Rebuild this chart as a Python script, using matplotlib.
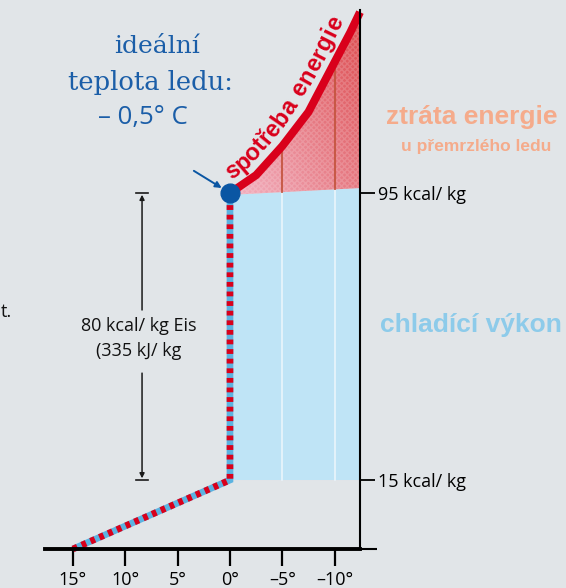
import numpy as np
import matplotlib
matplotlib.use("Agg")
import matplotlib.pyplot as plt
from matplotlib.patches import Polygon
from matplotlib.font_manager import FontProperties

# ---------------- data ----------------
x_ticks = [15, 10, 5, 0, -5, -10]
x_tick_labels = ["15°", "10°", "5°", "0°", "–5°", "–10°"]
y_ticks = [15, 95]
y_tick_labels = ["15 kcal/ kg", "95 kcal/ kg"]

# water cooling + freezing path (temperature °C, energy kcal/kg)
path_temp = [15, 0, 0]
path_kcal = [0, 15, 95]

# energy consumption curve for sub-cooling the ice
curve_temp = [0, -2.5, -5, -7.5, -10, -11.5, -12.42]
curve_kcal = [95, 100.0, 108.1, 117.6, 131.5, 139.8, 145.4]

# upper edge of the cooling-capacity area
cap_temp = [0, -12.42]
cap_top = [94.5, 96.4]
cap_bottom = 15

ideal_point = (0, 95)
latent_range = (15, 95)

# ---------------- styling ----------------
W, H = 566, 588
BG = "#e1e5e8"
RED = "#d9001b"
LBLUE = "#5bb3e1"
DBLUE = "#0a56a3"
FILLBLUE = "#bfe4f6"
TXTBLUE = "#1b5ea8"

fig = plt.figure(figsize=(W / 100, H / 100), dpi=100, facecolor=BG)


def fx(px):
    return px / W


def fy(py):
    return 1 - py / H


ax = fig.add_axes([fx(45), fy(549), fx(360) - fx(45), fy(10) - fy(549)])
ax.set_facecolor("none")


# piecewise-linear energy scale (kcal -> px above axis)
def fwd(k):
    k = np.asarray(k, dtype=float)
    mid = np.interp(k, [0, 15, 95], [0, 69, 356])
    return np.where(k > 95, 356 + (k - 95) * 3.59, np.where(k < 0, k * 4.6, mid))


def inv(p):
    p = np.asarray(p, dtype=float)
    mid = np.interp(p, [0, 69, 356], [0, 15, 95])
    return np.where(p > 356, 95 + (p - 356) / 3.59, np.where(p < 0, p / 4.6, mid))


ax.set_yscale("function", functions=(fwd, inv))
ax.set_xlim(17.67, -12.42)
ax.set_ylim(0, 146)

# spines / ticks
for s in ["left", "top"]:
    ax.spines[s].set_visible(False)
ax.spines["bottom"].set_linewidth(2.8)
ax.spines["right"].set_linewidth(1.5)
ax.spines["bottom"].set_zorder(6)
ax.spines["right"].set_zorder(6)
ax.set_xticks(x_ticks)
ax.set_xticklabels(x_tick_labels)
ax.tick_params(axis="x", length=12, width=1.6, pad=4, labelsize=13,
               direction="out", colors="black")
for lab in ax.get_xticklabels():
    lab.set_family("Open Sans")
ax.yaxis.tick_right()
ax.set_yticks(y_ticks)
ax.set_yticklabels(y_tick_labels)
ax.set_yticks([0], minor=True)
ax.yaxis.set_minor_formatter(matplotlib.ticker.NullFormatter())
ax.tick_params(axis="y", which="major", length=11, width=1.3, pad=2,
               labelsize=13)
ax.tick_params(axis="y", which="minor", length=12, width=1.5)
for lab in ax.get_yticklabels():
    lab.set_family("Open Sans")

# cooling capacity area (light blue)
ax.fill([cap_temp[0], cap_temp[1], cap_temp[1], cap_temp[0]],
        [cap_bottom, cap_bottom, cap_top[1], cap_top[0]],
        color=FILLBLUE, lw=0, zorder=1)

# energy loss area (gradient)
poly_xy = list(zip(curve_temp, curve_kcal)) + [(cap_temp[1], cap_top[1]), (cap_temp[0], cap_top[0])]
poly = Polygon(poly_xy, closed=True, transform=ax.transData, facecolor="none", lw=0)
ax.add_patch(poly)
gx = np.linspace(0, 1, 200)
gy = np.linspace(0, 1, 200)
GX, GY = np.meshgrid(gx, gy)
T = np.clip(0.6 * GX + 0.5 * GY, 0, 1)
c0 = np.array(matplotlib.colors.to_rgb("#f3b2c2"))
c1 = np.array(matplotlib.colors.to_rgb("#de5256"))
img = c0[None, None, :] * (1 - T[..., None]) + c1[None, None, :] * T[..., None]
im = ax.imshow(img, extent=(0, -12.42, 94.5, 146), origin="lower",
               aspect="auto", zorder=2, interpolation="bilinear")
im.set_clip_path(poly)
hatch = Polygon(poly_xy, closed=True, transform=ax.transData, facecolor="none",
                edgecolor=(1, 1, 1, 0.16), hatch="xxxxxx", lw=0, zorder=2.5)
ax.add_patch(hatch)

# grid lines at -5 and -10
ct = np.array(curve_temp)[::-1]
ck = np.array(curve_kcal)[::-1]
for t in [-5, -10]:
    top_cap = np.interp(t, cap_temp[::-1], cap_top[::-1])
    ax.plot([t, t], [cap_bottom, top_cap], color="#eaf5fb", lw=1.2, zorder=3)
    ax.plot([t, t], [top_cap, np.interp(t, ct, ck)], color="#c4553f", lw=1.3, zorder=3)

# consumption curve
ax.plot(curve_temp, curve_kcal, color=RED, lw=5.8, solid_capstyle="butt",
        solid_joinstyle="round", zorder=5, clip_on=False)

# dashed red/blue path
ax.plot(path_temp, path_kcal, color=LBLUE, lw=4.8, solid_joinstyle="miter",
        solid_capstyle="butt", zorder=4, clip_on=False)
ax.plot(path_temp, path_kcal, color=RED, lw=4.8, dashes=(0.72, 0.72),
        dash_capstyle="butt", zorder=4.5, clip_on=False)

# ideal point
ax.plot(*ideal_point, "o", ms=13.5, color=DBLUE, zorder=7, clip_on=False)
ax.annotate("", xy=ideal_point, xytext=(-26, 16), textcoords="offset points",
            arrowprops=dict(arrowstyle="-|>", color=DBLUE, lw=1.4,
                            mutation_scale=9, shrinkA=0, shrinkB=7),
            zorder=7)

# dimension marker 80 kcal
xd = 8.4
for yend, ygap in [(latent_range[1], 62.4), (latent_range[0], 44.8)]:
    ax.annotate("", xy=(xd, yend), xytext=(xd, ygap),
                arrowprops=dict(arrowstyle="-|>", color="#1a1a1a", lw=1.1,
                                mutation_scale=7, shrinkA=0, shrinkB=1.2))
    ax.plot([xd + 0.55, xd - 0.55], [yend, yend], color="#1a1a1a", lw=1.2)

fig.text(fx(139), fy(331), "80 kcal/ kg Eis", ha="center", va="baseline",
         family="Open Sans", fontsize=13, color="#111111")
fig.text(fx(139), fy(356), "(335 kJ/ kg", ha="center", va="baseline",
         family="Open Sans", fontsize=13, color="#111111")
fig.text(fx(0.5), fy(317), "t.", ha="left", va="baseline",
         family="Open Sans", fontsize=13, color="#111111")

# title text
fig.text(fx(157), fy(53), "ideální", ha="center", va="baseline",
         family="DejaVu Serif", fontsize=18, color=TXTBLUE)
fig.text(fx(150), fy(90), "teplota ledu:", ha="center", va="baseline",
         family="DejaVu Serif", fontsize=18.5, color=TXTBLUE)
fig.text(fx(143), fy(124), "– 0,5° C", ha="center", va="baseline",
         family="Open Sans", fontsize=18.5, color=TXTBLUE)

# right side labels
fig.text(fx(472), fy(124), "ztráta energie", ha="center", va="baseline",
         family="Liberation Sans", weight="bold", fontsize=19, color="#f5ab8b")
fig.text(fx(476), fy(151), "u přemrzlého ledu", ha="center", va="baseline",
         family="Liberation Sans", weight="bold", fontsize=12.5, color="#f5ab8b")
fig.text(fx(471), fy(332), "chladící výkon", ha="center", va="baseline",
         family="Liberation Sans", weight="bold", fontsize=19, color="#8dcbea")

# curved label along the consumption curve
fig.canvas.draw()
renderer = fig.canvas.get_renderer()
disp = ax.transData.transform(np.column_stack([curve_temp, curve_kcal]))
coef = np.polyfit(disp[:, 0], disp[:, 1], 3)
X = np.linspace(disp[0, 0], disp[-1, 0], 2000)
Y = np.polyval(coef, X)
seg = np.hypot(np.diff(X), np.diff(Y))
S = np.concatenate([[0], np.cumsum(seg)])
label = "spotřeba energie"
prop = FontProperties(family="Liberation Sans", weight="bold", size=17)
widths = [0.0]
for i in range(1, len(label) + 1):
    w, h, d = renderer.get_text_width_height_descent(label[:i], prop, ismath=False)
    widths.append(w + 0.9 * i)
s0 = 8.0
off = 11.5
for i, ch in enumerate(label):
    sc = s0 + (widths[i] + widths[i + 1]) / 2
    j = np.searchsorted(S, sc)
    j = min(max(j, 1), len(X) - 1)
    th = np.arctan2(Y[j] - Y[j - 1], X[j] - X[j - 1])
    px = X[j] - off * np.sin(th)
    py = Y[j] + off * np.cos(th)
    if ch.strip():
        fig.text(px / W, py / H, ch, fontproperties=prop, color=RED,
                 rotation=np.degrees(th), rotation_mode="anchor",
                 ha="center", va="baseline", zorder=8)

fig.savefig("out.png", dpi=100, facecolor=BG)
